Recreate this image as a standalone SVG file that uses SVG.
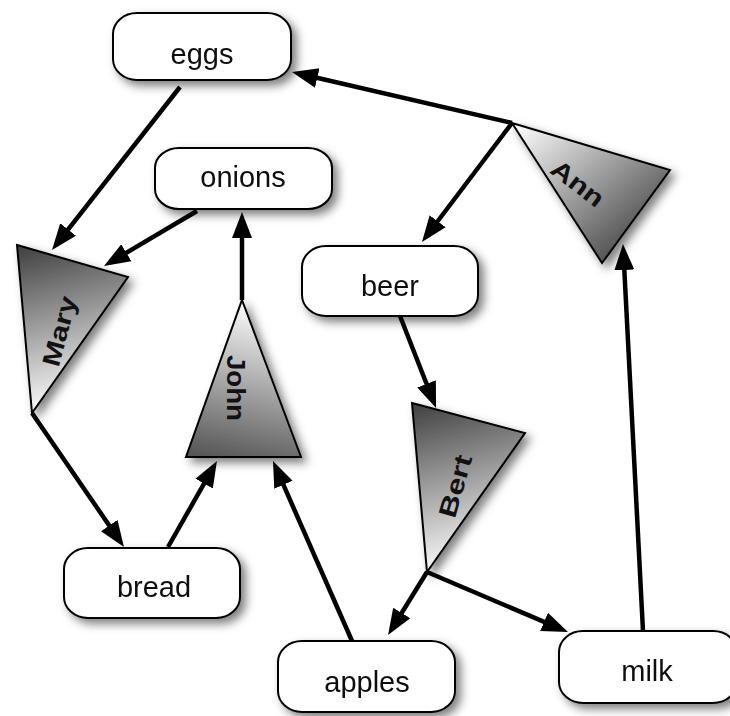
<svg xmlns="http://www.w3.org/2000/svg" width="730" height="716" viewBox="0 0 730 716">
<style>
.box{fill:#fff;stroke:#000;stroke-width:2}
.tri{stroke:#000;stroke-width:2;stroke-linejoin:miter}
.lbl{font-family:"Liberation Sans",Arial,sans-serif;font-size:29px;fill:#111;text-anchor:middle}
.tl{font-family:"Liberation Sans",Arial,sans-serif;font-size:25px;font-weight:bold;fill:#111;text-anchor:middle;dominant-baseline:central}
.edge{stroke:#000;stroke-width:4.5;fill:none;marker-end:url(#ah)}
</style>
<defs>
<filter id="sh" x="-30%" y="-30%" width="160%" height="160%">
<feDropShadow dx="5" dy="5" stdDeviation="5" flood-color="#000" flood-opacity="0.5"/>
</filter>
<marker id="ah" markerUnits="userSpaceOnUse" markerWidth="28" markerHeight="22" refX="16" refY="10" orient="auto" viewBox="0 0 28 20">
<path d="M0,0 L26,10 L0,20 z" fill="#000"/>
</marker>
<linearGradient id="gMary" gradientUnits="userSpaceOnUse" x1="20" y1="250" x2="62" y2="405">
<stop offset="0" stop-color="#444"/><stop offset="1" stop-color="#fafafa"/>
</linearGradient>
<linearGradient id="gBert" gradientUnits="userSpaceOnUse" x1="415" y1="407" x2="458" y2="565">
<stop offset="0" stop-color="#444"/><stop offset="1" stop-color="#fafafa"/>
</linearGradient>
<linearGradient id="gJohn" gradientUnits="userSpaceOnUse" x1="250" y1="305" x2="215" y2="460">
<stop offset="0" stop-color="#fafafa"/><stop offset="1" stop-color="#555"/>
</linearGradient>
<linearGradient id="gAnn" gradientUnits="userSpaceOnUse" x1="518" y1="128" x2="622" y2="252">
<stop offset="0" stop-color="#fafafa"/><stop offset="1" stop-color="#505050"/>
</linearGradient>
</defs>

<g id="connectors">
<path class="edge" d="M180,87 L58.2,242.1"/>
<path class="edge" d="M197,211 L112.6,260.9"/>
<path class="edge" d="M512,123 L301.7,74.3"/>
<path class="edge" d="M512,123 L428,234"/>
<path class="edge" d="M242,300 L242,222"/>
<path class="edge" d="M32,413 L118.3,538.7"/>
<path class="edge" d="M168,547 L212,469.7"/>
<path class="edge" d="M352,641 L277,470.2"/>
<path class="edge" d="M400,316 L432.4,398.7"/>
<path class="edge" d="M427,572 L393.3,626.5"/>
<path class="edge" d="M427,572 L558.8,628.1"/>
<path class="edge" d="M643,631 L623.5,254"/>
</g>

<g id="eggs" filter="url(#sh)">
<rect class="box" x="113" y="13" width="178" height="67" rx="24" ry="21"/>
<text class="lbl" x="202" y="64">eggs</text>
</g>
<g id="onions" filter="url(#sh)">
<rect class="box" x="155" y="148" width="177" height="61" rx="24" ry="20"/>
<text class="lbl" x="243" y="187">onions</text>
</g>
<g id="beer" filter="url(#sh)">
<rect class="box" x="302" y="246" width="176" height="70" rx="24" ry="21"/>
<text class="lbl" x="390" y="296">beer</text>
</g>
<g id="bread" filter="url(#sh)">
<rect class="box" x="64" y="548" width="176" height="70" rx="24" ry="21"/>
<text class="lbl" x="154" y="597">bread</text>
</g>
<g id="apples" filter="url(#sh)">
<rect class="box" x="278" y="641" width="177" height="71" rx="24" ry="21"/>
<text class="lbl" x="367" y="692">apples</text>
</g>
<g id="milk" filter="url(#sh)">
<rect class="box" x="559" y="631" width="178" height="72" rx="24" ry="21"/>
<text class="lbl" x="647" y="681">milk</text>
</g>

<g id="Mary">
<polygon class="tri" fill="url(#gMary)" filter="url(#sh)" points="17,245 128,277 32,413"/>
<text class="tl" transform="translate(59,331) rotate(-75)" textLength="72" lengthAdjust="spacingAndGlyphs">Mary</text>
</g>
<g id="John">
<polygon class="tri" fill="url(#gJohn)" filter="url(#sh)" points="242,300 301,457 186,457"/>
<text class="tl" transform="translate(236,388) rotate(90)" textLength="66" lengthAdjust="spacingAndGlyphs">John</text>
</g>
<g id="Bert">
<polygon class="tri" fill="url(#gBert)" filter="url(#sh)" points="412,403 525,433 427,572"/>
<text class="tl" transform="translate(455,486) rotate(-74)" textLength="64" lengthAdjust="spacingAndGlyphs">Bert</text>
</g>
<g id="Ann">
<polygon class="tri" fill="url(#gAnn)" filter="url(#sh)" points="512,123 670,170 602,263"/>
<text class="tl" transform="translate(578,183) rotate(37.5)" textLength="60" lengthAdjust="spacingAndGlyphs">Ann</text>
</g>
</svg>
